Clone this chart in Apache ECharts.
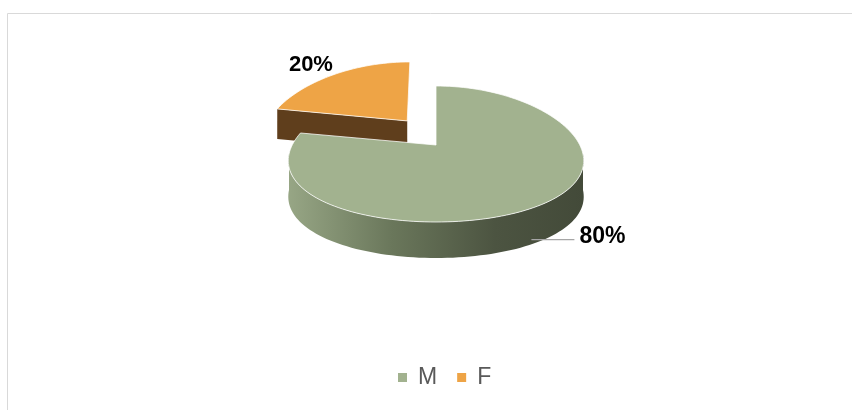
<!DOCTYPE html>
<html><head><meta charset="utf-8">
<script src="https://cdn.jsdelivr.net/npm/echarts@6/dist/echarts.min.js"></script>
<style>html,body{margin:0;padding:0;background:#fff}#c{width:852px;height:410px}</style>
</head><body><div id="c"></div>
<script>
const categories = ['M', 'F'];
const values = [80, 20];
const explode = [0, 0.35];
const topColors = ['#A2B28F', '#EEA446'];
const faceColors = ['#4A5240', '#5F3E1C'];

const CX = 436, CY = 154, RX = 147, RY = 68, DEPTH = [36, 30], APEX_SHIFT = -9, PERSP = 0.1;
const total = values.reduce((a, b) => a + b, 0);
const starts = [];
let acc = 0;
values.forEach(v => { starts.push(acc); acc += v / total * 360; });

function persp(x, y) { const s = 1 + PERSP * (y - CY) / RY; return [CX + (x - CX) * s, y]; }
function pt(cx, cy, th) { const r = th * Math.PI / 180; return persp(cx + RX * Math.sin(r), cy - RY * Math.cos(r)); }
function arc(cx, cy, a1, a2) {
  const n = Math.max(2, Math.ceil(Math.abs(a2 - a1) / 2));
  const out = [];
  for (let i = 0; i <= n; i++) out.push(pt(cx, cy, a1 + (a2 - a1) * i / n));
  return out;
}

function makeRender(idx) {
  return function (params, api) {
    const v = api.value(0);
    const a1 = starts[idx], a2 = a1 + v / total * 360;
    const mid = (a1 + a2) / 2;
    const e = explode[idx];
    const dx = e * RX * Math.sin(mid * Math.PI / 180);
    const dy = -e * RY * Math.cos(mid * Math.PI / 180) * 1.25;
    const cx = CX + dx, cy = CY + dy;
    const apex = persp(cx, cy + APEX_SHIFT);
    const D = DEPTH[idx];
    const children = [];
    [[a1, a1 - 90], [a2, a2 + 90]].forEach(([a, n]) => {
      if (Math.cos(n * Math.PI / 180) < -0.05) {
        const p = pt(cx, cy, a);
        children.push({ type: 'polygon', shape: { points: [apex, p, [p[0], p[1] + D], [apex[0], apex[1] + D]] },
          style: { fill: faceColors[idx] } });
      }
    });
    const s1 = Math.max(a1, 90), s2 = Math.min(a2, 270);
    if (s2 > s1) {
      const topArc = arc(cx, cy, s1, s2);
      const botArc = topArc.slice().reverse().map(p => [p[0], p[1] + D]);
      children.push({ type: 'polygon', shape: { points: topArc.concat(botArc) },
        style: { fill: new echarts.graphic.LinearGradient(1, 0, 0, 0, [
          { offset: 0, color: '#434A39' }, { offset: 0.3, color: '#4C5441' },
          { offset: 0.65, color: '#6A775B' }, { offset: 1, color: '#97A685' }]) } });
    }
    children.push({ type: 'polygon', shape: { points: [apex].concat(arc(cx, cy, a1, a2)) },
      style: { fill: topColors[idx], stroke: 'rgba(255,255,255,0.75)', lineWidth: 1 } });
    const txt = Math.round(v / total * 100) + '%';
    const op = pt(cx, cy, mid);
    if (mid > 90 && mid < 270) {
      const y = op[1] + D * 0.85;
      children.push({ type: 'line', shape: { x1: op[0] + 2, y1: y, x2: op[0] + 45, y2: y },
        style: { stroke: '#A6A6A6', lineWidth: 1.2 } });
      children.push({ type: 'text', style: { x: op[0] + 50, y: y - 3, text: txt, fill: '#000',
        font: 'bold 23px "Liberation Sans", Arial, sans-serif', textAlign: 'left', textVerticalAlign: 'middle' } });
    } else {
      children.push({ type: 'text', style: { x: op[0] - 22, y: op[1] - 10, text: txt, fill: '#000',
        font: 'bold 22px "Liberation Sans", Arial, sans-serif', textAlign: 'center', textVerticalAlign: 'middle' } });
    }
    return { type: 'group', children: children };
  };
}

const chart = echarts.init(document.getElementById('c'), null, { renderer: 'canvas' });
chart.setOption({
  animation: false,
  graphic: [{ type: 'rect', shape: { x: 7.5, y: 13.5, width: 900, height: 500 },
    style: { fill: 'none', stroke: '#D9D9D9', lineWidth: 1 }, silent: true, z: -10 }],
  legend: {
    data: categories, left: 398, top: 366, itemWidth: 9, itemHeight: 9, itemGap: 20, icon: 'rect', padding: 0,
    textStyle: { fontSize: 23, color: '#595959', fontFamily: '"Liberation Sans", Arial, sans-serif', padding: [0, 0, 0, 6] }
  },
  series: categories.map((name, i) => ({
    type: 'custom', name: name, coordinateSystem: 'none', z: i === 0 ? 3 : 2,
    itemStyle: { color: topColors[i] },
    data: [[values[i]]],
    renderItem: makeRender(i)
  }))
});
</script></body></html>
